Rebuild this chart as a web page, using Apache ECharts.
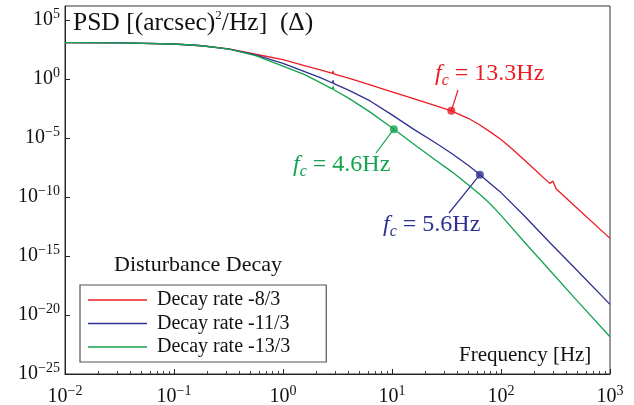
<!DOCTYPE html>
<html><head><meta charset="utf-8">
<script src="https://cdn.jsdelivr.net/npm/echarts@6/dist/echarts.min.js"></script>
<style>html,body{margin:0;padding:0;background:#fff}#c{width:634px;height:405px}</style>
</head><body><div id="c"></div>
<script>
// ---------- data (PSD values stored as log10 exponents) ----------
const seriesNames = ['Decay rate -8/3', 'Decay rate -11/3', 'Decay rate -13/3'];
const seriesColors = ['#ed1c24', '#2e3192', '#14a34f'];

const redFreq = [0.01, 0.032, 0.1, 0.18, 0.32, 0.56, 1, 1.6, 2.2, 2.85, 2.88, 2.92, 4, 6.3, 10, 16, 25, 35, 50, 63, 79, 100, 126, 160, 200, 280, 300, 320, 500, 1000];
const redLogPsd = [3.09, 3.08, 2.98, 2.83, 2.56, 2.11, 1.65, 1.13, 0.78, 0.48, 0.70, 0.45, 0.08, -0.49, -1.08, -1.68, -2.25, -2.69, -3.32, -3.85, -4.45, -5.12, -5.9, -6.78, -7.6, -8.84, -8.65, -9.3, -10.95, -13.5];

const freq = [0.01, 0.032, 0.1, 0.18, 0.32, 0.56, 1, 1.6, 2.2, 2.85, 2.88, 2.92, 4, 6.3, 10, 16, 25, 35, 50, 63, 79, 100, 160, 280, 500, 1000];
const blueLogPsd  = [3.09, 3.08, 2.98, 2.83, 2.55, 2.05, 1.33, 0.62, 0.12, -0.33, -0.10, -0.38, -0.93, -1.85, -3.03, -4.28, -5.4, -6.28, -7.3, -8.05, -8.82, -9.62, -11.5, -13.85, -16.23, -19.1];
const greenLogPsd = [3.09, 3.08, 2.98, 2.83, 2.55, 2.0, 1.10, 0.36, -0.3, -0.85, -0.62, -0.9, -1.61, -2.8, -4.12, -5.55, -6.85, -7.82, -8.95, -9.72, -10.55, -11.55, -13.7, -16.2, -18.8, -21.84];

const annotFreq = [35, 10.4, 64];
const annotLogPsd = [-2.69, -4.24, -8.1];
const annotValue = ['13.3Hz', '4.6Hz', '5.6Hz'];
const annotSeries = [0, 2, 1];   // which curve each note belongs to

const xTickValues = [1e-2, 1e-1, 1, 10, 100, 1000];
const yTickValues = [1e-25, 1e-20, 1e-15, 1e-10, 1e-5, 1, 1e5];

// ---------- chart ----------
const FONT = '"Liberation Serif", "Times New Roman", serif';
const xMinor = [];
for (let d = 0; d < xTickValues.length - 1; d++) {
  for (let k = 2; k <= 9; k++) xMinor.push(k * xTickValues[d]);
}
const expRich = {
  b: { fontSize: 20, lineHeight: 26, fontFamily: FONT, color: '#111' },
  s: { fontSize: 14, lineHeight: 13, verticalAlign: 'top', fontFamily: FONT, color: '#111' }
};
function expFmt(v) {
  const e = Math.round(Math.log10(v));
  return '{b|10}{s|' + (e < 0 ? '\u2212' + (-e) : e) + '}';
}
function pairs(xs, logs) { return xs.map((x, i) => [x, Math.pow(10, logs[i])]); }

const chart = echarts.init(document.getElementById('c'), null, { renderer: 'canvas' });
const axisLineStyle = { color: '#222', width: 1 };
const lineSeries = [redLogPsd, blueLogPsd, greenLogPsd].map((logs, i) => ({
  name: seriesNames[i], type: 'line',
  data: pairs(i === 0 ? redFreq : freq, logs),
  symbol: 'none', showSymbol: false, smooth: false,
  lineStyle: { color: seriesColors[i], width: 1.3 },
  itemStyle: { color: seriesColors[i] }
}));
chart.setOption({
  animation: false,
  backgroundColor: '#fff',
  grid: { left: 65, right: 24, top: 6, bottom: 31, show: true, borderColor: '#333', borderWidth: 1, containLabel: false, outerBoundsMode: 'none' },
  xAxis: [{
    type: 'log', logBase: 10, min: 0.01, max: 1000, position: 'bottom',
    axisLine: { show: true, onZero: false, lineStyle: axisLineStyle },
    axisTick: { show: true, inside: true, length: 5, customValues: xTickValues, lineStyle: axisLineStyle },
    axisLabel: { customValues: xTickValues, formatter: expFmt, rich: expRich, margin: 10 },
    splitLine: { show: false }, minorTick: { show: false }
  }, {
    type: 'log', logBase: 10, min: 0.01, max: 1000, position: 'bottom', gridIndex: 0,
    axisLine: { show: false },
    axisTick: { show: true, inside: true, length: 3, customValues: xMinor, lineStyle: { color: '#444', width: 1 } },
    axisLabel: { show: false },
    splitLine: { show: false }
  }],
  yAxis: {
    type: 'log', logBase: 10, min: 1e-25, max: Math.pow(10, 6.2),
    axisLine: { show: true, onZero: false, lineStyle: axisLineStyle },
    axisTick: { show: true, inside: true, length: 5, customValues: yTickValues, lineStyle: axisLineStyle },
    axisLabel: { customValues: yTickValues, formatter: expFmt, rich: expRich, margin: 5 },
    splitLine: { show: false }
  },
  legend: {
    data: seriesNames,
    orient: 'vertical', left: 80, top: 285,
    padding: [5, 36, 5, 8], itemGap: 3.5, itemWidth: 59, itemHeight: 1.5, icon: 'rect',
    borderColor: '#555', borderWidth: 1.2, borderRadius: 0,
    textStyle: { fontFamily: FONT, fontSize: 20, color: '#111', lineHeight: 20, padding: [0, 0, 0, 5] }
  },
  series: lineSeries.concat([{
    name: 'fc', type: 'scatter', symbolSize: 8, z: 5,
    data: annotFreq.map((f, i) => ({ value: [f, Math.pow(10, annotLogPsd[i])], itemStyle: { color: seriesColors[annotSeries[i]] } }))
  }])
});

// ---------- annotations (text + leader lines) ----------
const dotPx = annotFreq.map((f, i) => chart.convertToPixel({ xAxisIndex: 0, yAxisIndex: 0 }, [f, Math.pow(10, annotLogPsd[i])]));
const labelPos = [ [435, 74], [293, 165], [383, 225] ];   // text anchors (left, middle)
const leaderEnd = [ [458, 90], [376, 153], [449, 213] ];
function fcRich(color) {
  return {
    f: { fontSize: 24, lineHeight: 30, fontStyle: 'italic', fontFamily: FONT, fill: color },
    c: { fontSize: 16, lineHeight: 24, verticalAlign: 'bottom', fontStyle: 'italic', fontFamily: FONT, fill: color },
    t: { fontSize: 24, lineHeight: 30, fontFamily: FONT, fill: color }
  };
}
const graphics = [];
annotValue.forEach((txt, i) => {
  const col = seriesColors[annotSeries[i]];
  graphics.push({ type: 'text', x: labelPos[i][0], y: labelPos[i][1], z: 10,
    style: { text: '{f|f}{c|c}{t| = ' + txt + '}', rich: fcRich(col), verticalAlign: 'middle', align: 'left' } });
  graphics.push({ type: 'line', z: 10, shape: { x1: dotPx[i][0], y1: dotPx[i][1], x2: leaderEnd[i][0], y2: leaderEnd[i][1] },
    style: { stroke: col, lineWidth: 1.2 } });
});
graphics.push({ type: 'text', x: 73, y: 23, z: 10,
  style: { text: '{a|PSD [(arcsec)}{s|2}{a|/Hz]  (Δ)}', verticalAlign: 'middle', align: 'left',
    rich: { a: { fontSize: 25.5, lineHeight: 28, fontFamily: FONT, fill: '#111' },
            s: { fontSize: 13, lineHeight: 13, verticalAlign: 'top', fontFamily: FONT, fill: '#111' } } } });
graphics.push({ type: 'text', x: 459, y: 355, z: 10,
  style: { text: 'Frequency [Hz]', font: '21px ' + FONT, fill: '#111', verticalAlign: 'middle', align: 'left' } });
graphics.push({ type: 'text', x: 198, y: 265, z: 10,
  style: { text: 'Disturbance Decay', font: '22px ' + FONT, fill: '#111', verticalAlign: 'middle', align: 'center' } });
chart.setOption({ graphic: graphics });
</script>
</body></html>
